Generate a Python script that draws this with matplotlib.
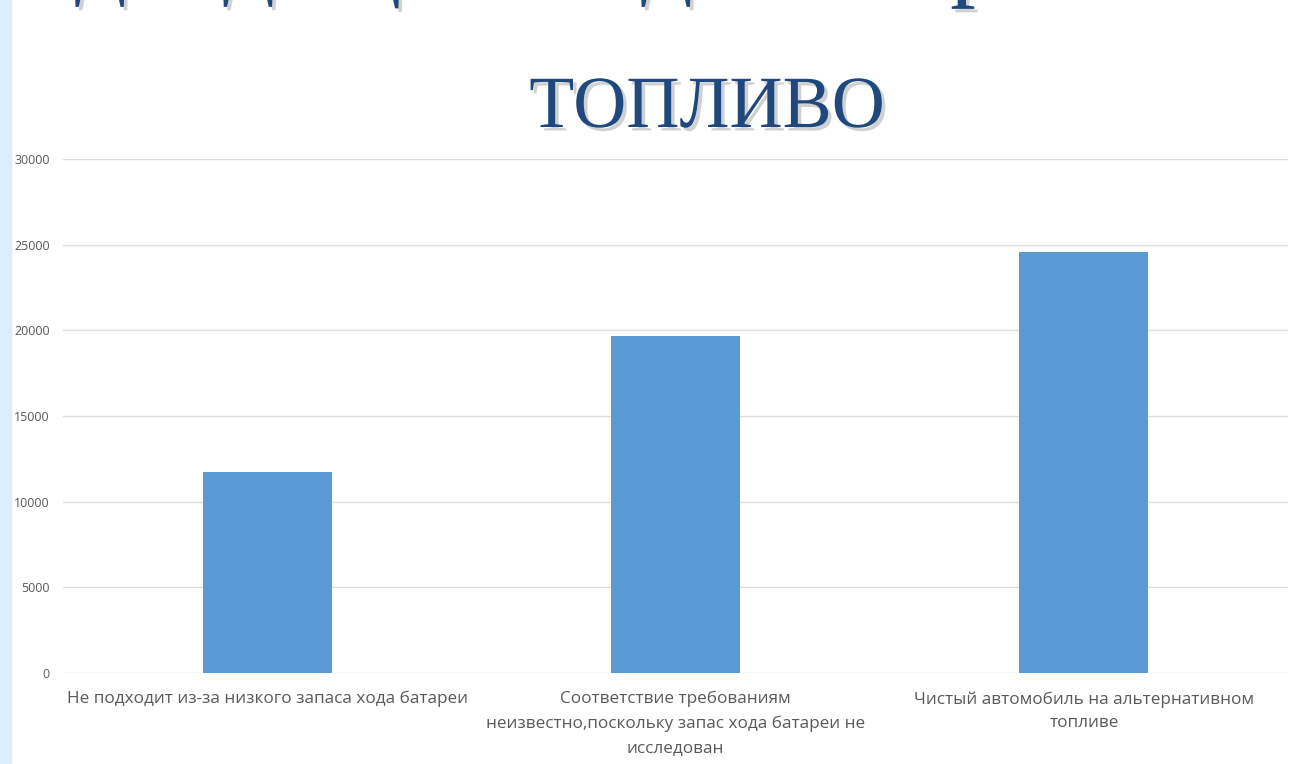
import matplotlib
matplotlib.use("Agg")
from matplotlib import pyplot as plt
from matplotlib import patheffects
from matplotlib.patches import Rectangle

# Chart data
categories = ["Не подходит из-за низкого запаса хода батареи",
              "Соответствие требованиям\nнеизвестно,поскольку запас хода батареи не\nисследован",
              "Чистый автомобиль на альтернативном\nтопливе"]
values = [11750, 19650, 24550]
yticks = [0, 5000, 10000, 15000, 20000, 25000, 30000]

title_line1 = "Подходящий под альтернативное"
title_line2 = "топливо"

W, H = 1292, 764
fig = plt.figure(figsize=(W / 100, H / 100), dpi=100)
fig.patch.set_facecolor("white")

# light blue strip on the left of the slide
fig.patches.append(Rectangle((0, 0), 11 / W, 1, transform=fig.transFigure,
                             color="#DDEDFD", zorder=0))

ax = fig.add_axes([63 / W, 1 - 673 / H, (1288 - 63) / W, (673 - 159) / H])
ax.bar(range(len(categories)), values, width=0.316, color="#5B9BD5", zorder=3)
ax.set_ylim(0, 30000)
ax.set_xlim(-0.5, len(categories) - 0.5)
ax.set_yticks(yticks)
ax.set_yticklabels([str(v) for v in yticks])
ax.set_xticks(range(len(categories)))
ax.set_xticklabels(categories, linespacing=1.65)
ax.grid(axis="y", color="#DEDEDE", linewidth=1, zorder=0)
for s in ax.spines.values():
    s.set_visible(False)
ax.tick_params(axis="y", length=0, pad=9.4, labelsize=9, labelcolor="#595959")
ax.tick_params(axis="x", length=0, pad=13, labelsize=12.3, labelcolor="#595959")
for lab in ax.get_yticklabels() + ax.get_xticklabels():
    lab.set_fontfamily("Open Sans")

shadow = [patheffects.SimplePatchShadow(offset=(2.5, -2.5), shadow_rgbFace="#8C8C8C", alpha=0.4),
          patheffects.Normal()]

# first title line is cut off by the top edge, as on the slide screenshot
fig.text(-48 / W, 1 + 13 / H, title_line1, ha="left", va="baseline",
         fontsize=74, family="Liberation Serif", color="#1F497D",
         path_effects=shadow)
fig.text(707 / W, 1 - 127 / H, title_line2.upper(), ha="center", va="baseline",
         fontsize=53, family="Liberation Serif", color="#1F497D",
         path_effects=shadow)

fig.savefig("out.png", dpi=100)
